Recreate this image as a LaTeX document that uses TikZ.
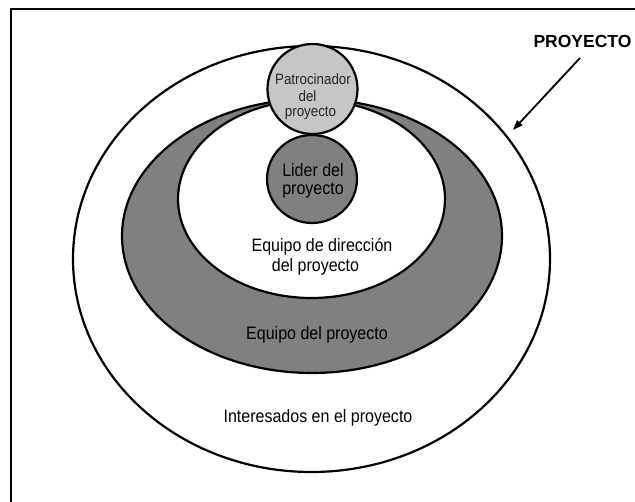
\documentclass[tikz,border=0pt]{standalone}
\usepackage{fontspec}
\setmainfont[FakeStretch=0.89]{Liberation Sans}
\newfontfamily\titlefont{Liberation Sans}
\usetikzlibrary{shapes.geometric,arrows.meta}
\definecolor{ringgray}{HTML}{808080}
\definecolor{sponsorgray}{HTML}{C6C6C6}
\tikzset{
  ring/.style={ellipse, draw=black, line width=2.2pt, inner sep=0pt},
  lbl/.style={anchor=base, inner sep=0pt, font=\fontsize{18}{20}\selectfont, text=black},
  smalllbl/.style={anchor=base, inner sep=0pt, font=\fontsize{15}{16}\selectfont, text=black!85},
}
\begin{document}
\begin{tikzpicture}[x=1pt,y=1pt]
\useasboundingbox (0,0) rectangle (635,502);
\fill[white] (0,0) rectangle (635,502);
% frame
\coordinate (fbl) at (11,0);
\coordinate (ftl) at (11,493);
\coordinate (ftr) at (635,493);
\draw[line width=2.2pt] (fbl) -- (ftl) -- (ftr);
% ellipses
\node[ring, fill=white, minimum width=477pt, minimum height=426pt] (outer) at (311.5,243) {};
\node[ring, fill=ringgray, minimum width=380pt, minimum height=274pt] (team) at (312,266) {};
\node[ring, fill=white, minimum width=267pt, minimum height=198pt] (mgmt) at (311.5,303) {};
\node[ring, fill=ringgray, minimum width=90pt, minimum height=88pt] (leader) at (312,323) {};
\node[ring, fill=sponsorgray, minimum width=90pt, minimum height=90pt] (sponsor) at (312.5,413) {};
% texts
\node[smalllbl] (sp1) at (313,417) {Patrocinador};
\node[smalllbl] (sp2) at (307.5,400) {del};
\node[smalllbl] (sp3) at (310.5,385) {proyecto};
\node[lbl] (ld1) at (313,325) {Lider del};
\node[lbl] (ld2) at (313,307) {proyecto};
\node[lbl] (dr1) at (322,250) {Equipo de dirección};
\node[lbl] (dr2) at (315.5,230) {del proyecto};
\node[lbl] (tm) at (317,162) {Equipo del proyecto};
\node[lbl] (st) at (318,79) {Interesados en el proyecto};
\node[anchor=base, inner sep=0pt, font=\titlefont\bfseries\fontsize{17.5}{20}\selectfont] (proj) at (582.5,454) {PROYECTO};
% arrow
\coordinate (arrstart) at (580,444);
\coordinate (arrtip) at (513,372);
\draw[line width=1.8pt, -{Triangle[length=10pt,width=7pt]}] (arrstart) -- (arrtip);
\end{tikzpicture}
\end{document}
